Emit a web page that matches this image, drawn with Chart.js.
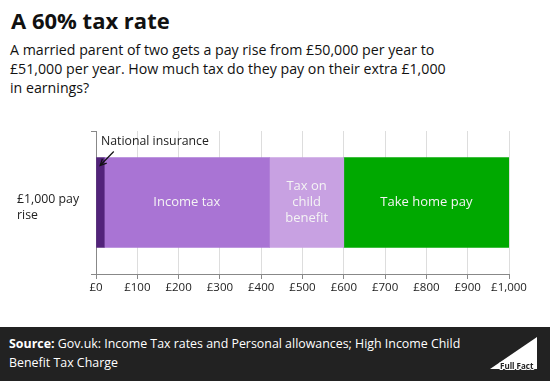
<!DOCTYPE html>
<html>
<head>
<meta charset="utf-8">
<script src="https://cdn.jsdelivr.net/npm/chart.js@4.4.0/dist/chart.umd.min.js"></script>
<style>
  html, body { margin:0; padding:0; width:550px; height:381px; background:#fff; overflow:hidden; }
  body { position:relative; font-family:"Open Sans", Lato, sans-serif; color:#111; }
  #title { position:absolute; left:11px; top:5px; font-size:22px; font-weight:700; letter-spacing:0px; }
  #sub { position:absolute; left:10px; top:40px; font-size:14.2px; line-height:19px; width:520px; }
  #chartWrap { position:absolute; left:0; top:0; width:550px; height:327px; }
  #ylab { position:absolute; left:17px; top:191px; font-size:12.3px; line-height:16px; color:#222; }
  #footer { position:absolute; left:0; top:327px; width:550px; height:54px; background:#222; color:#fff; }
  #src { position:absolute; left:9px; top:7px; font-size:12.4px; line-height:19px; width:470px; }
  #logo { position:absolute; right:0; top:0; }
</style>
</head>
<body>
<div id="title">A 60% tax rate</div>
<div id="sub">A married parent of two gets a pay rise from £50,000 per year to<br>£51,000 per year. How much tax do they pay on their extra £1,000<br>in earnings?</div>
<div id="chartWrap"><canvas id="c" width="550" height="327"></canvas></div>
<div id="ylab">£1,000 pay<br>rise</div>
<div id="footer">
  <div id="src"><b>Source:</b> Gov.uk: Income Tax rates and Personal allowances; High Income Child<br>Benefit Tax Charge</div>
  <canvas id="logo" width="60" height="54"></canvas>
</div>
<script>
const categories = ["£1,000 pay rise"];
const seriesNames = ["National insurance", "Income tax", "Tax on child benefit", "Take home pay"];
const nationalInsurance = [20];
const incomeTax = [400];
const childBenefitTax = [180];
const takeHomePay = [400];
const xTicks = [0, 100, 200, 300, 400, 500, 600, 700, 800, 900, 1000];

const colors = ["#52237a", "#a974d4", "#c8a1e2", "#00a900"];
const innerLabels = [null, ["Income tax"], ["Tax on", "child", "benefit"], ["Take home pay"]];
const BAR_THICKNESS = 90;

const barLabelPlugin = {
  id: "barLabels",
  afterDraw(chart) {
    const ctx = chart.ctx;
    ctx.save();
    ctx.font = "13px 'Open Sans', sans-serif";
    ctx.fillStyle = "#f4f4f4";
    ctx.textAlign = "center";
    ctx.textBaseline = "middle";
    chart.data.datasets.forEach((ds, i) => {
      const lines = innerLabels[i];
      if (!lines) return;
      const el = chart.getDatasetMeta(i).data[0];
      const cx = (el.x + el.base) / 2;
      const cy = el.y;
      const lh = 16;
      lines.forEach((t, k) => {
        ctx.fillText(t, cx, cy + (k - (lines.length - 1) / 2) * lh);
      });
    });
    // National insurance annotation
    const xs = chart.scales.x;
    const ys = chart.scales.y;
    const cyBar = ys.getPixelForValue(0);
    const barTop = cyBar - BAR_THICKNESS / 2;
    const tipX = xs.getPixelForValue(nationalInsurance[0] / 2);
    const tipY = barTop + 8;
    const tailX = xs.getPixelForValue(nationalInsurance[0] / 2 + 33);
    const tailY = barTop - 6;
    ctx.strokeStyle = "#111";
    ctx.lineWidth = 1.2;
    ctx.beginPath();
    ctx.moveTo(tailX, tailY);
    ctx.lineTo(tipX, tipY);
    ctx.stroke();
    const ang = Math.atan2(tipY - tailY, tipX - tailX);
    const ah = 7;
    ctx.beginPath();
    ctx.moveTo(tipX - ah * Math.cos(ang - 0.45), tipY - ah * Math.sin(ang - 0.45));
    ctx.lineTo(tipX, tipY);
    ctx.lineTo(tipX - ah * Math.cos(ang + 0.45), tipY - ah * Math.sin(ang + 0.45));
    ctx.stroke();
    ctx.fillStyle = "#222";
    ctx.font = "12.3px 'Open Sans', sans-serif";
    ctx.textAlign = "left";
    ctx.textBaseline = "middle";
    ctx.fillText(seriesNames[0], xs.getPixelForValue(12), chart.chartArea.top + 10);
    ctx.restore();
  }
};

const values = [nationalInsurance, incomeTax, childBenefitTax, takeHomePay];

new Chart(document.getElementById("c"), {
  type: "bar",
  data: {
    labels: categories,
    datasets: seriesNames.map((n, i) => ({
      label: n,
      data: values[i],
      backgroundColor: colors[i],
      borderWidth: 0,
      barThickness: BAR_THICKNESS
    }))
  },
  options: {
    indexAxis: "y",
    responsive: false,
    animation: false,
    layout: { padding: { left: 91, right: 41, top: 131, bottom: 23 } },
    plugins: { legend: { display: false }, tooltip: { enabled: false } },
    scales: {
      x: {
        stacked: true,
        min: 0, max: 1000,
        afterBuildTicks: (s) => { s.ticks = xTicks.map(v => ({ value: v })); },
        afterFit: (s) => { s.height = 30; },
        ticks: {
          color: "#222",
          font: { family: "'Open Sans', sans-serif", size: 11.5 },
          padding: 2,
          maxRotation: 0,
          callback: (v) => "£" + Number(v).toLocaleString("en-GB")
        },
        grid: { color: "#dddddd", tickColor: "#888", tickLength: 5 },
        border: { color: "#888", width: 1 }
      },
      y: {
        stacked: true,
        ticks: { display: false },
        afterFit: (s) => { s.width = 5; },
        grid: { drawOnChartArea: false, tickLength: 5, color: "#888", offset: true },
        border: { color: "#888", width: 1 }
      }
    }
  },
  plugins: [barLabelPlugin]
});

// logo
const lc = document.getElementById("logo").getContext("2d");
lc.fillStyle = "#fff";
lc.beginPath();
lc.moveTo(0, 42); lc.lineTo(47, 10); lc.lineTo(47, 42); lc.closePath(); lc.fill();
lc.font = "bold 8px 'Open Sans', sans-serif";
lc.textBaseline = "alphabetic";
lc.lineWidth = 2; lc.strokeStyle = "#fff";
lc.strokeText("Full Fact", 10, 42);
lc.fillStyle = "#222";
lc.fillText("Full Fact", 10, 42);
</script>
</body>
</html>
